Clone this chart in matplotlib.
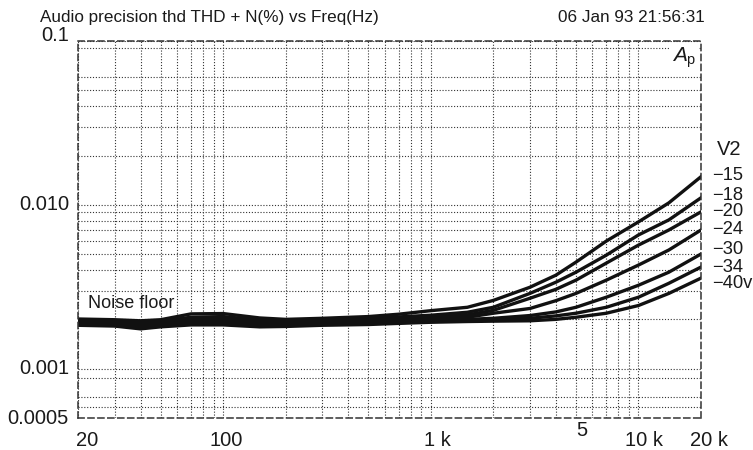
import matplotlib
matplotlib.use("Agg")
import matplotlib.pyplot as plt
from matplotlib.transforms import blended_transform_factory, offset_copy

plt.rcParams['font.family'] = ['Liberation Sans', 'DejaVu Sans']
plt.rcParams['mathtext.fontset'] = 'custom'
plt.rcParams['mathtext.rm'] = 'Liberation Sans'
plt.rcParams['mathtext.it'] = 'Liberation Sans:italic'

# frequency points (Hz)
freq_lo = [20, 30, 40, 50, 70, 100, 150, 200, 300, 500, 700, 1000]
freq_hi = [1500, 2000, 3000, 4000, 5000, 7000, 10000, 14000, 20000]

# THD+N (%) per V2 level
thd_15 = [0.00201, 0.00199, 0.00196, 0.00199, 0.00216, 0.00217, 0.00204, 0.00200, 0.00203, 0.00208, 0.00215, 0.00226,
          0.00237, 0.00261, 0.00314, 0.00372, 0.00447, 0.00601, 0.00787, 0.01028, 0.01485]
thd_18 = [0.00198, 0.00196, 0.00191, 0.00195, 0.00206, 0.00208, 0.00198, 0.00196, 0.00200, 0.00203, 0.00207, 0.00212,
          0.00221, 0.00237, 0.00288, 0.00337, 0.00388, 0.00493, 0.00655, 0.00809, 0.01104]
thd_20 = [0.00195, 0.00192, 0.00187, 0.00192, 0.00200, 0.00201, 0.00193, 0.00193, 0.00197, 0.00199, 0.00202, 0.00206,
          0.00213, 0.00227, 0.00269, 0.00305, 0.00347, 0.00441, 0.00568, 0.00702, 0.00906]
thd_24 = [0.00193, 0.00190, 0.00184, 0.00190, 0.00196, 0.00196, 0.00189, 0.00190, 0.00194, 0.00195, 0.00198, 0.00201,
          0.00206, 0.00218, 0.00233, 0.00260, 0.00288, 0.00347, 0.00429, 0.00530, 0.00702]
thd_30 = [0.00190, 0.00187, 0.00180, 0.00186, 0.00191, 0.00191, 0.00186, 0.00187, 0.00190, 0.00192, 0.00194, 0.00197,
          0.00200, 0.00203, 0.00211, 0.00222, 0.00237, 0.00273, 0.00323, 0.00388, 0.00501]
thd_34 = [0.00187, 0.00185, 0.00177, 0.00183, 0.00188, 0.00188, 0.00183, 0.00184, 0.00187, 0.00189, 0.00191, 0.00194,
          0.00197, 0.00199, 0.00203, 0.00210, 0.00218, 0.00237, 0.00273, 0.00332, 0.00417]
thd_40 = [0.00184, 0.00182, 0.00175, 0.00180, 0.00185, 0.00185, 0.00180, 0.00181, 0.00184, 0.00186, 0.00189, 0.00192,
          0.00194, 0.00195, 0.00196, 0.00200, 0.00206, 0.00218, 0.00243, 0.00288, 0.00357]

level_labels = ['\u221215', '\u221218', '\u221220', '\u221224', '\u221230', '\u221234', '\u221240v']
level_label_y = [175, 195, 212, 230, 250, 267, 284]  # pixel rows of the right-hand labels

xtick_pos = [20, 100, 1000, 5000, 10000, 20000]
xtick_labels = ['20', '100', '1 k', '5', '10 k', '20 k']
ytick_pos = [0.0005, 0.001, 0.01, 0.1]
ytick_labels = ['0.0005', '0.001', '0.010', '0.1']
xgrid = [30, 40, 50, 60, 70, 80, 90, 200, 300, 400, 500, 600, 700, 800, 900,
         2000, 3000, 4000, 5000, 6000, 7000, 8000, 9000]
ygrid = [0.00058, 0.00067, 0.00088, 0.002, 0.003, 0.004, 0.005, 0.006, 0.007, 0.008, 0.009,
         0.02, 0.03, 0.04, 0.05, 0.06, 0.09]

W, H = 753, 450
fig = plt.figure(figsize=(W / 100, H / 100), dpi=100)
ax = fig.add_axes([78 / W, 1 - 418 / H, (701 - 78) / W, (418 - 41) / H])
ax.set_xscale('log')
ax.set_yscale('log')
ax.set_xlim(20, 20000)
ax.set_ylim(0.0005, 0.1)

freqs = freq_lo + freq_hi
for vals in [thd_15, thd_18, thd_20, thd_24, thd_30, thd_34, thd_40]:
    ax.plot(freqs, vals, color='#111111', lw=2.4, solid_joinstyle='round')

ink = '#1a1a1a'
ax.set_xticks([20, 100, 1000, 10000, 20000])
ax.set_xticks(xgrid, minor=True)
ax.set_yticks(ytick_pos)
ax.set_yticks(ygrid, minor=True)
ax.tick_params(which='both', length=0, labelbottom=False, labelleft=False)
ax.grid(which='both', linestyle=(0, (1, 1.6)), color='#333333', lw=0.8)
ax.set_axisbelow(True)
for s in ax.spines.values():
    s.set_linestyle((0, (4, 2.5)))
    s.set_linewidth(1.1)
    s.set_color('#333333')

# tick labels, nudged like the original plotter output
bx = blended_transform_factory(ax.transData, ax.transAxes)
x_dx = [9, 3, 6.5, 6, 6, 7.5]
x_dy = [-23, -23, -23, -12, -23, -23]
for f, lab, dx, dy in zip(xtick_pos, xtick_labels, x_dx, x_dy):
    ax.text(f, 0, lab, transform=offset_copy(bx, fig, x=dx, y=dy, units='dots'),
            ha='center', va='center', fontsize=14.5, color=ink, clip_on=False)
by = blended_transform_factory(ax.transAxes, ax.transData)
for v, lab in zip(ytick_pos, ytick_labels):
    dy = 5 if v == 0.1 else 0
    ax.text(0, v, lab, transform=offset_copy(by, fig, x=-9, y=dy, units='dots'),
            ha='right', va='center', fontsize=14.5, color=ink, clip_on=False)

ax.text(0.993, 0.988, r'$A_{\mathrm{p}}$', transform=ax.transAxes, ha='right', va='top',
        fontsize=15, color=ink, bbox=dict(facecolor='white', edgecolor='none', pad=1.5))
ax.text(0.0155, 0.305, 'Noise floor', transform=ax.transAxes, ha='left', va='center',
        fontsize=13, color=ink)

fig.text(40 / W, 1 - 22 / H, 'Audio precision thd THD + N(%) vs Freq(Hz)', ha='left',
         va='baseline', fontsize=12.3, color=ink)
fig.text(705 / W, 1 - 22 / H, '06 Jan 93 21:56:31', ha='right', va='baseline',
         fontsize=12.3, color=ink)
fig.text(717 / W, 1 - 150 / H, 'V2', ha='left', va='center', fontsize=14.5, color=ink)
for lab, yp in zip(level_labels, level_label_y):
    fig.text(712 / W, 1 - yp / H, lab, ha='left', va='center', fontsize=13.2, color=ink)

fig.savefig('out.png', dpi=100, facecolor='white')
